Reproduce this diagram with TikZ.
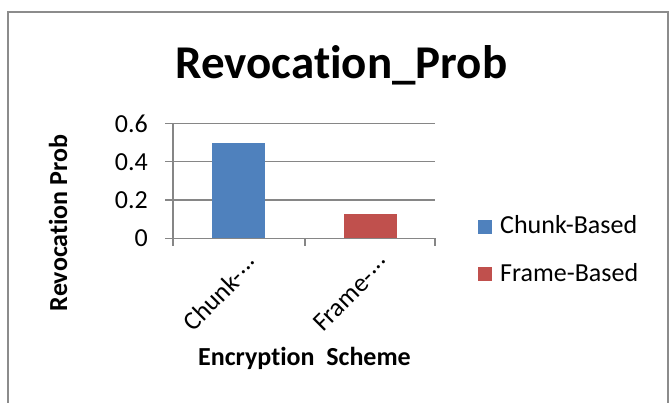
\documentclass[tikz,border=0pt]{standalone}
\usepackage{fontspec}
\setmainfont{Carlito}[Ligatures={NoCommon,NoContextual}]
\definecolor{barblue}{HTML}{4F81BD}
\definecolor{barred}{HTML}{C0504D}
\definecolor{gridgray}{HTML}{868686}
\definecolor{framegray}{HTML}{8C8C8C}
\newcommand{\midell}{\hspace{0.05em}\raisebox{0.2em}{...}}
\begin{document}
\begin{tikzpicture}[x=1pt,y=-1pt,
  gridline/.style={draw=gridgray,line width=1.2pt},
  ticklabel/.style={font=\fontsize{26}{31}\selectfont,anchor=east,inner sep=0pt},
  catlabel/.style={font=\fontsize{26}{31}\selectfont,anchor=east,rotate=45,inner sep=0pt},
  axistitle/.style={font=\fontsize{26}{31}\selectfont\bfseries,inner sep=0pt},
  legendtext/.style={font=\fontsize{26}{31}\selectfont,anchor=base west,inner sep=0pt}]
\useasboundingbox (0,0) rectangle (670,403);
% outer chart frame (bottom edge lies outside the picture)
\draw[framegray,line width=1.5pt] (8,410) -- (8,12) -- (668,12) -- (668,410);
% title
\node[font=\fontsize{47}{56}\selectfont\bfseries,anchor=base,inner sep=0pt] (title) at (341.5,79) {Revocation\_Prob};
% gridlines
\foreach \yy in {123.5,161.8,200.0} \draw[gridline] (165,\yy) -- (435,\yy);
% bars
\fill[barblue] (212,142.6) rectangle (265,238.3);
\fill[barred] (344,214.4) rectangle (397,238.3);
% axes
\draw[gridline] (165,238.3) -- (435,238.3);
\draw[gridline] (173,123.5) -- (173,246.5);
\draw[gridline] (305,238.3) -- (305,246.5);
\draw[gridline] (435,238.3) -- (435,246.5);
% tick labels
\node[ticklabel] (t06) at (148,123.5) {0.6};
\node[ticklabel] (t04) at (148,161.8) {0.4};
\node[ticklabel] (t02) at (148,200.0) {0.2};
\node[ticklabel] (t00) at (148,238.3) {0};
% category labels
\node[catlabel] (c1) at (254,259) {Chunk-\midell};
\node[catlabel] (c2) at (385,259) {Frame-\midell};
% axis titles
\node[axistitle,anchor=base] (xt) at (304.5,366) {Encryption\ \ Scheme};
\node[axistitle,anchor=base,rotate=90] (yt) at (67,223) {Revocation Prob};
% legend
\fill[barblue] (478,220) rectangle (492,234);
\node[legendtext] (l1) at (500,234) {Chunk-Based};
\fill[barred] (478,267) rectangle (492,281);
\node[legendtext] (l2) at (500,282) {Frame-Based};
\end{tikzpicture}
\end{document}
